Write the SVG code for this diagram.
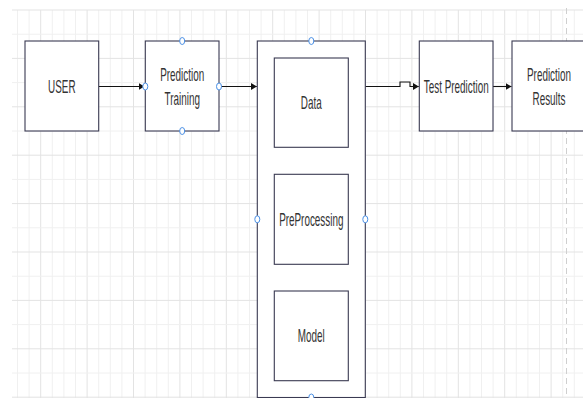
<svg xmlns="http://www.w3.org/2000/svg" width="583" height="398" viewBox="0 0 583 398">
<style>
.gmaj{stroke:#e3e3e3;stroke-width:1;fill:none}
.gmin{stroke:#f0f0f0;stroke-width:1;fill:none}
.box{fill:#ffffff;stroke:#3a3a52;stroke-width:1.1}
.lbl{font-family:"Liberation Sans",Arial,sans-serif;font-size:18px;fill:#333333;text-anchor:middle}
.conn{stroke:#111111;stroke-width:1.1;fill:none}
.hdl{fill:#ffffff;stroke:#4a90e6;stroke-width:1}
</style>
<defs>
<marker id="arr" markerUnits="userSpaceOnUse" markerWidth="7" markerHeight="8" refX="6" refY="4" orient="auto">
<path d="M0,0.5 L6,4 L0,7.5 z" fill="#111111"/>
</marker>
</defs>
<rect x="0" y="0" width="583" height="398" fill="#ffffff"/>
<g id="grid">
<path class="gmin" d="M29.1 10V398M52.3 10V398M75.5 10V398M98.7 10V398M121.9 10V398M145.1 10V398M168.3 10V398M191.5 10V398M214.7 10V398M237.9 10V398M261.1 10V398M284.3 10V398M307.5 10V398M330.7 10V398M353.9 10V398M377.1 10V398M400.3 10V398M423.5 10V398M446.7 10V398M469.9 10V398M493.1 10V398M516.3 10V398M539.5 10V398M562.7 10V398"/>
<path class="gmin" d="M17.5 10V398M63.9 10V398M110.3 10V398M156.7 10V398M203.1 10V398M249.5 10V398M295.9 10V398M342.3 10V398M388.7 10V398M435.1 10V398M481.5 10V398M527.9 10V398M574.3 10V398"/>
<path class="gmaj" d="M40.7 10V398M87.1 10V398M133.5 10V398M179.9 10V398M226.3 10V398M272.7 10V398M319.1 10V398M365.5 10V398M411.9 10V398M458.3 10V398M504.7 10V398M551.1 10V398"/>
<path class="gmin" d="M12 34.2H583M12 82.6H583M12 131H583M12 179.4H583M12 227.8H583M12 276.2H583M12 324.6H583M12 373H583"/>
<path class="gmaj" d="M12 10H583M12 58.4H583M12 106.8H583M12 155.2H583M12 203.6H583M12 252H583M12 300.4H583M12 348.8H583M12 397.2H583"/>
<path d="M566.5 8V398" stroke="#cfcfcf" stroke-width="1" stroke-dasharray="6,4" fill="none"/>
</g>
<g id="connectors">
<path class="conn" d="M98.7 86.5H144.5" marker-end="url(#arr)"/>
<path class="conn" d="M219 86.5H256.8" marker-end="url(#arr)"/>
<path class="conn" d="M365.3 86.5H400V82H410V86.5H418.8" marker-end="url(#arr)"/>
<path class="conn" d="M493 86.5H511.5" marker-end="url(#arr)"/>
</g>
<g id="user">
<rect class="box" x="25" y="41" width="73.7" height="90"/>
<text class="lbl" transform="translate(61.8 93) scale(0.55 1)">USER</text>
</g>
<g id="prediction-training">
<rect class="box" x="145.3" y="41" width="73.7" height="90"/>
<text class="lbl" transform="translate(182.2 80.5) scale(0.55 1)">Prediction</text>
<text class="lbl" transform="translate(182.2 105) scale(0.55 1)">Training</text>
</g>
<g id="container">
<rect class="box" x="257.3" y="41" width="108" height="356.5"/>
</g>
<g id="data">
<rect class="box" x="274.3" y="58" width="74" height="89.3"/>
<text class="lbl" transform="translate(311.3 109) scale(0.55 1)">Data</text>
</g>
<g id="preprocessing">
<rect class="box" x="274.3" y="174.3" width="74" height="90"/>
<text class="lbl" transform="translate(311.3 225.8) scale(0.55 1)">PreProcessing</text>
</g>
<g id="model">
<rect class="box" x="274.3" y="291" width="74" height="89.7"/>
<text class="lbl" transform="translate(311.3 342.3) scale(0.55 1)">Model</text>
</g>
<g id="test-prediction">
<rect class="box" x="419.3" y="41" width="73.7" height="90"/>
<text class="lbl" transform="translate(456.2 92.5) scale(0.55 1)">Test Prediction</text>
</g>
<g id="prediction-results">
<rect class="box" x="512" y="41" width="74" height="90"/>
<text class="lbl" transform="translate(549 80.5) scale(0.55 1)">Prediction</text>
<text class="lbl" transform="translate(549 105) scale(0.55 1)">Results</text>
</g>
<g id="handles">
<ellipse class="hdl" cx="182.2" cy="41" rx="2.5" ry="3.5"/>
<ellipse class="hdl" cx="182.2" cy="131" rx="2.5" ry="3.5"/>
<ellipse class="hdl" cx="145.3" cy="86.5" rx="2.5" ry="3.5"/>
<ellipse class="hdl" cx="219" cy="86.5" rx="2.5" ry="3.5"/>
<ellipse class="hdl" cx="311.3" cy="41" rx="2.5" ry="3.5"/>
<ellipse class="hdl" cx="257.3" cy="219.3" rx="2.5" ry="3.5"/>
<ellipse class="hdl" cx="365.3" cy="219.3" rx="2.5" ry="3.5"/>
<ellipse class="hdl" cx="311.3" cy="397.5" rx="2.5" ry="3.5"/>
</g>
</svg>
